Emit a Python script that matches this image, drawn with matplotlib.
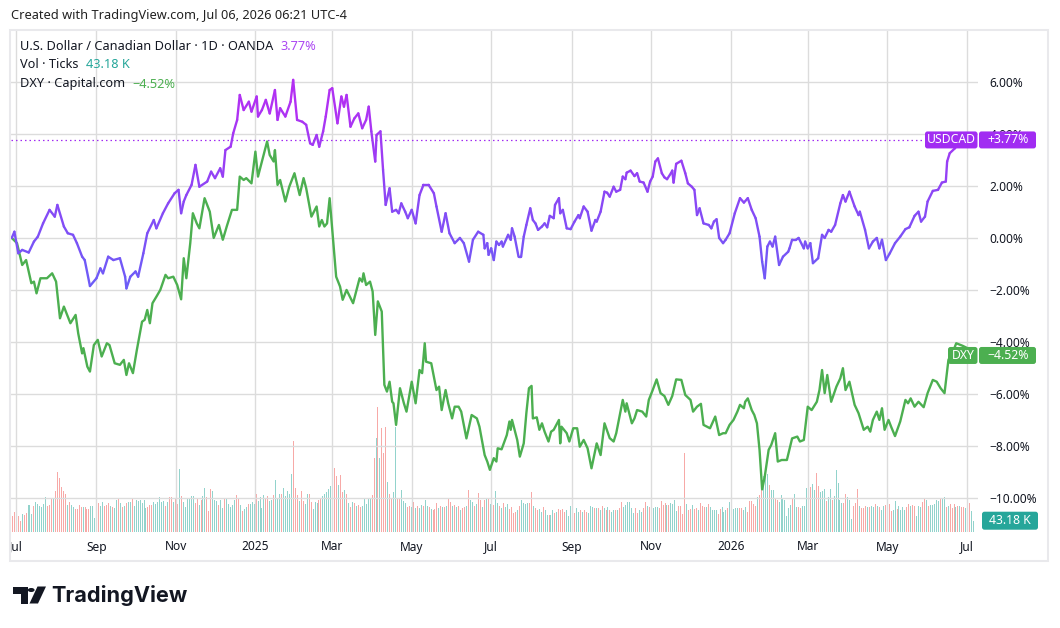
import numpy as np
import pandas as pd
import matplotlib
matplotlib.use("Agg")
import matplotlib.pyplot as plt
import matplotlib.dates as mdates
from matplotlib.collections import LineCollection
from matplotlib.colors import LinearSegmentedColormap, Normalize
from matplotlib.patches import Rectangle, FancyBboxPatch, Circle, Polygon
from matplotlib.transforms import IdentityTransform, Bbox, blended_transform_factory

plt.rcParams['font.family'] = ['Noto Sans', 'DejaVu Sans']

# %% data (percent change since start, x = days after day0)
day0 = pd.Timestamp("2024-07-01")

usdcad = [(-3, 0.0), (-1, 0.24), (2, -0.59), (5, -0.46), (10, -0.56), (14, -0.14), (17, 0.05),
          (21, 0.56), (26, 1.08), (30, 0.82), (32, 1.27), (37, 0.44), (40, 0.18), (44, 0.12),
          (47, -0.20), (51, -0.72), (53, -0.85), (57, -1.85), (62, -1.55), (65, -1.17), (67, -1.36),
          (71, -0.72), (75, -0.85), (80, -0.78), (84, -1.49), (85, -1.94), (88, -1.49), (92, -1.29),
          (94, -1.49), (98, -0.59), (101, 0.18), (106, 0.69), (108, 0.37), (113, 0.95), (117, 1.33),
          (122, 1.72), (125, 1.85), (127, 0.95), (129, 1.40), (131, 1.65), (135, 2.04), (138, 2.81),
          (141, 1.97), (147, 2.17), (150, 2.55), (153, 2.30), (157, 2.68), (159, 2.36), (161, 3.38),
          (165, 3.51), (167, 4.03), (170, 4.54), (172, 5.50), (175, 4.92), (179, 5.24), (181, 4.86),
          (185, 5.44), (186, 4.67), (189, 4.92), (192, 5.31), (195, 4.79), (199, 5.69), (201, 4.54),
          (203, 4.99), (207, 4.67), (211, 5.24), (213, 6.08), (216, 4.54), (220, 4.47), (223, 4.35),
          (226, 3.64), (228, 3.58), (231, 3.96), (233, 3.51), (236, 4.10), (238, 4.67), (241, 5.69),
          (243, 5.76), (247, 4.41), (250, 5.44), (252, 5.05), (254, 5.50), (257, 4.28), (260, 4.60),
          (263, 4.79), (266, 4.22), (269, 4.54), (271, 5.05), (273, 4.10), (276, 2.94), (277, 3.96),
          (280, 4.10), (282, 2.62), (284, 1.27), (287, 1.91), (289, 1.01), (292, 1.08), (294, 0.95),
          (296, 1.33), (299, 1.01), (301, 0.76), (304, 1.08), (307, 0.56), (310, 1.65), (313, 2.04),
          (317, 2.04), (321, 1.72), (323, 1.21), (327, 0.24), (330, 0.95), (333, 0.18), (337, -0.20),
          (341, 0.00), (344, -0.20), (348, -0.91), (351, -0.07), (355, 0.24), (359, 0.12), (360, -0.40),
          (362, -0.20), (363, -0.65), (365, -0.40), (367, -0.85), (369, -0.14), (371, -0.27),
          (373, -0.14), (374, -0.33), (378, 0.12), (380, -0.07), (381, 0.37), (383, 0.05), (386, -0.72),
          (388, -0.72), (390, 0.05), (392, 0.50), (395, 1.14), (397, 0.69), (399, 0.56), (401, 0.31),
          (404, 0.44), (406, 0.56), (408, 0.41), (410, 0.85), (413, 0.76), (414, 1.27), (417, 1.53),
          (418, 0.95), (420, 1.08), (423, 0.37), (426, 0.34), (429, 0.63), (432, 0.88), (433, 0.76),
          (436, 1.21), (439, 1.01), (442, 0.28), (445, 0.69), (446, 0.63), (449, 1.01), (452, 1.78),
          (454, 1.74), (456, 1.59), (459, 1.97), (461, 1.78), (464, 1.85), (466, 2.36), (468, 2.26),
          (469, 2.51), (472, 2.59), (475, 2.38), (477, 2.49), (479, 2.17), (482, 2.13), (485, 1.78),
          (487, 2.17), (489, 2.36), (491, 2.94), (493, 3.06), (496, 2.49), (498, 2.33), (500, 2.26),
          (503, 2.49), (504, 2.59), (505, 2.13), (507, 2.85), (511, 2.97), (514, 2.49), (516, 2.10),
          (519, 1.97), (521, 1.85), (523, 0.88), (525, 1.14), (528, 0.56), (532, 0.50), (534, 0.37),
          (536, 0.63), (538, 0.72), (540, 0.00), (543, -0.20), (545, -0.07), (548, 0.18), (552, 0.95),
          (556, 1.53), (559, 1.36), (562, 1.53), (565, 1.08), (568, 0.76), (571, 0.05), (573, -0.91),
          (575, -1.55), (577, -0.33), (579, -0.14), (581, -0.33), (583, 0.05), (586, -1.04),
          (589, -0.72), (593, -0.53), (594, -0.40), (596, -0.07), (599, -0.07), (601, 0.00),
          (605, -0.40), (606, -0.14), (608, -0.40), (610, -0.20), (612, -0.97), (616, -0.78),
          (619, 0.12), (621, 0.00), (624, 0.31), (626, 0.24), (629, 0.50), (633, 1.33), (635, 1.65),
          (637, 1.40), (640, 1.78), (644, 1.21), (647, 0.88), (648, 1.01), (652, 0.31), (655, -0.40),
          (658, -0.14), (661, 0.00), (663, -0.40), (665, -0.07), (668, -0.85), (671, -0.59),
          (675, -0.20), (679, 0.05), (683, 0.34), (686, 0.41), (690, 0.85), (693, 1.01), (695, 0.63),
          (698, 0.82), (700, 1.40), (704, 1.81), (708, 1.85), (711, 2.13), (714, 2.17), (715, 2.94),
          (717, 3.26), (721, 3.45), (725, 3.70), (730, 3.62), (735, 3.77)]

dxy = [(-3, 0.0), (1, -0.20), (5, -1.04), (8, -0.85), (12, -1.74), (14, -1.68), (16, -2.13),
       (19, -1.55), (24, -1.55), (28, -1.36), (31, -1.68), (34, -3.09), (37, -2.64), (40, -3.03),
       (42, -3.28), (46, -2.96), (48, -3.67), (51, -4.44), (52, -4.24), (55, -4.95), (57, -5.14),
       (60, -4.12), (63, -3.92), (66, -4.56), (70, -4.05), (72, -4.12), (76, -4.82), (80, -4.88),
       (83, -4.69), (85, -5.27), (87, -4.82), (90, -5.20), (93, -4.31), (97, -3.22), (99, -3.15),
       (101, -2.77), (103, -3.28), (105, -2.51), (108, -2.26), (111, -2.00), (115, -1.42),
       (117, -1.55), (121, -1.49), (124, -1.81), (127, -2.36), (129, -0.78), (131, -1.55),
       (134, -0.20), (136, 0.95), (139, 0.56), (141, 0.37), (145, 1.53), (149, 1.01), (152, 0.00),
       (156, 0.50), (159, -0.07), (162, 0.44), (166, 1.08), (170, 1.08), (172, 2.36), (175, 2.23),
       (177, 2.30), (181, 2.10), (184, 3.32), (186, 2.36), (190, 3.13), (193, 3.71), (195, 3.19),
       (198, 2.94), (199, 3.38), (201, 2.04), (203, 2.23), (207, 1.40), (210, 1.97), (214, 2.49),
       (218, 1.65), (221, 2.30), (223, 1.91), (227, 0.82), (231, 1.21), (233, 0.44), (235, 0.69),
       (237, 0.44), (239, 0.56), (241, 1.53), (243, 0.31), (246, -1.49), (249, -1.87), (251, -2.38),
       (254, -2.00), (259, -2.51), (264, -1.55), (266, -1.68), (267, -1.36), (269, -1.81),
       (272, -1.68), (274, -2.06), (276, -3.73), (278, -2.44), (281, -2.83), (283, -5.65),
       (285, -5.91), (287, -5.53), (289, -6.30), (290, -6.36), (292, -7.19), (295, -5.78),
       (298, -6.36), (300, -6.68), (304, -5.53), (307, -6.36), (310, -5.08), (312, -5.20),
       (314, -4.05), (315, -4.76), (319, -4.82), (323, -5.85), (325, -5.72), (327, -6.62),
       (330, -5.85), (332, -6.36), (335, -6.94), (337, -6.49), (340, -6.49), (342, -6.68),
       (346, -7.71), (350, -6.81), (354, -6.94), (356, -7.26), (360, -8.35), (362, -8.60),
       (364, -8.92), (367, -8.47), (369, -8.60), (370, -8.09), (373, -8.13), (377, -7.58),
       (379, -7.06), (380, -7.38), (381, -7.00), (385, -7.77), (387, -8.41), (390, -7.90),
       (392, -6.74), (394, -5.78), (396, -5.69), (397, -6.94), (400, -6.90), (402, -7.38),
       (404, -7.13), (406, -7.45), (409, -7.83), (411, -7.45), (413, -7.38), (417, -7.00),
       (418, -7.90), (419, -7.26), (423, -7.51), (425, -7.83), (428, -7.32), (431, -7.32),
       (433, -8.03), (436, -7.77), (439, -8.09), (442, -8.86), (446, -7.90), (449, -8.35),
       (452, -7.13), (456, -7.70), (459, -7.83), (461, -7.51), (466, -6.23), (468, -6.68),
       (469, -6.36), (473, -7.13), (475, -6.94), (477, -6.62), (481, -6.68), (484, -6.87),
       (486, -6.23), (489, -5.85), (492, -5.44), (495, -5.97), (498, -6.08), (501, -6.42),
       (504, -6.08), (507, -5.44), (511, -5.46), (514, -6.04), (518, -6.23), (520, -6.68),
       (523, -6.49), (526, -6.38), (528, -7.19), (533, -7.32), (537, -6.87), (540, -7.58),
       (543, -7.51), (545, -7.51), (548, -7.19), (551, -7.00), (554, -6.68), (556, -6.42),
       (559, -6.55), (560, -6.30), (562, -6.17), (565, -6.62), (567, -6.81), (569, -7.13),
       (571, -8.15), (573, -9.67), (575, -9.18), (578, -8.15), (580, -7.96), (583, -7.51),
       (585, -8.60), (588, -8.54), (592, -8.54), (596, -7.71), (600, -7.64), (602, -7.83),
       (605, -7.77), (608, -6.49), (611, -6.62), (615, -6.30), (617, -5.85), (619, -5.08),
       (621, -5.97), (623, -5.27), (626, -6.30), (630, -5.72), (633, -5.40), (635, -5.01),
       (637, -5.85), (640, -5.53), (644, -6.42), (647, -6.74), (651, -7.38), (654, -7.26),
       (656, -7.45), (658, -7.00), (661, -6.68), (663, -7.00), (665, -6.55), (667, -7.38),
       (670, -7.00), (672, -7.26), (675, -7.62), (679, -7.06), (683, -6.23), (685, -6.36),
       (687, -6.17), (690, -6.49), (693, -6.30), (697, -6.51), (700, -5.97), (704, -5.46),
       (707, -5.53), (710, -5.78), (713, -5.97), (716, -4.69), (720, -4.31), (722, -4.05),
       (727, -4.15), (731, -4.25), (735, -4.52)]

# volume in K, suffix r = down bar, g = up bar
vol_bars = """
63r 79r 72g 63r 42r 72g 68r 75r 111g 111g 72g 107r 125g 115g 107g 101g 115g 144g 107r 111r
135r 141g 173r 255r 229r 187r 173r 158r 111g 125r 111g 101g 94r 94r 111r 104r 101g 101r 94r 92r
107g 107g 56g 115r 121r 107g 125g 107r 111r 118r 107g 101r 96g 132g 135r 121g 104r 107g 118r 125g
125g 140r 107g 132g 130g 132g 121g 132g 96g 104r 111r 111r 125g 115g 125g 147g 125g 128g 107r 125g
147r 147r 125g 140r 115r 266g 150r 125g 104g 137g 141g 150g 150g 118r 137r 111g 132r 150g 184g 147r
86r 179r 173g 132g 128g 111r 132g 99g 137r 137g 115g 104g 111g 132g 154r 141r 111g 86r 92g 101g
115r 115g 125g 115g 158r 130g 147g 99g 154g 143r 150r 130g 132g 154r 219g 137g 157g 157r 184g 150g
171g 158g 245g 389r 186r 154r 128g 171r 128r 114g 158g 158r 125r 94g 125g 118g 132r 135r 150g 158g
168g 179g 193g 266r 269r 236r 197g 240r 168r 176g 158r 118g 104r 125g 118r 107g 111r 104r 107g 137g
115g 141g 141g 154r 315r 400g 536r 314g 444r 337r 449r 212g 158r 135r 168g 449g 141r 135r 176g 130g
118g 104r 107r 101g 125r 96g 107r 96g 111g 107r 132g 107g 104r 92g 89r 92r 118r 96g 107r 104g
104r 107g 137r 125r 107g 111r 104g 107r 89g 96r 101r 107g 176r 132g 125g 107r 115g 164r 132r 104g
132r 137g 140r 115g 111r 111r 171g 121g 107r 96g 118r 104g 115g 92r 101r 78r 82r 89g 107r 132g
121g 115g 121g 118r 168r 107g 96r 89r 92g 82g 104r 89g 68g 68r 68g 89g 78r 82g 92r 89r
92r 82r 89g 63g 107g 96g 78r 96g 82g 89r 82g 89r 82r 78g 107g 101g 96r 96g 96r 89g
107r 96g 89r 101g 89r 82g 89g 89r 89g 96r 125r 101g 111g 125g 125g 96g 75g 96r 75r 89g
82g 96r 125r 107g 101r 86g 96g 101g 101g 96r 128r 111r 118r 111g 111r 118g 114g 132g 85g 107r
107r 72r 337r 115g 89r 92r 111g 92r 96r 89g 118r 107r 104r 101g 115r 104g 89g 89g 89g 72r
92r 101g 82g 89g 96r 125g 96g 92g 96g 96g 96r 96r 89g 101g 82r 130r 130r 115r 107r 147g
154r 193r 236g 269g 245g 197r 176g 176g 135r 132r 125g 154g 140g 132g 63g 96g 111g 140r 157g 101g
101r 96r 107g 107g 183g 255r 187r 202g 176g 251r 193r 168g 173g 179g 130r 147g 179g 132r 150g 262g
204g 132g 121g 118r 158r 147g 132g 49g 107r 118r 179r 107g 96r 96r 107r 101g 104r 107g 104g 115r
107g 101r 89g 107g 111r 144r 115r 86r 89g 130g 92r 107g 89g 101g 89g 104r 115r 107g 111r 107r
63g 107g 101g 125r 135r 132g 107r 111g 111g 115g 132g 130g 135r 140g 144g 101r 107g 115r 96r 115r
101g 107r 107g 101r 101r 96g 82g 118r 86g 43.18g
"""
vol_first, vol_last = "2024-06-28", "2026-07-06"

usdcad_last = 3.77
dxy_last = -4.52
vol_last_k = 43.18

tick_dates = ["2024-07-01", "2024-09-01", "2024-11-01", "2025-01-01", "2025-03-01", "2025-05-01",
              "2025-07-01", "2025-09-01", "2025-11-01", "2026-01-01", "2026-03-01", "2026-05-01",
              "2026-07-01"]
tick_labels = ["Jul", "Sep", "Nov", "2025", "Mar", "May", "Jul", "Sep", "Nov", "2026", "Mar", "May", "Jul"]
y_ticks = [6, 4, 2, 0, -2, -4, -6, -8, -10]

# %% figure setup
W, H = 1060, 628
fig = plt.figure(figsize=(W / 100, H / 100), dpi=100, facecolor="white")

def fx(px):
    return px / W

def fy(py):
    return 1 - py / H

PLOT_L, PLOT_R, PLOT_T, PLOT_B = 11, 978, 31, 532
ax = fig.add_axes([fx(PLOT_L), fy(PLOT_B), fx(PLOT_R) - fx(PLOT_L), fy(PLOT_T) - fy(PLOT_B)])
ax_vol = ax.twinx()
ax_vol.set_zorder(ax.get_zorder() - 1)
ax.patch.set_visible(False)
ax_vol.patch.set_visible(False)

def to_num(days):
    return mdates.date2num(day0 + pd.to_timedelta(np.asarray(days, dtype=float), unit="D"))

ax.set_xlim(to_num([-3.6])[0], to_num([738.7])[0])
ax.set_ylim(-11.31, 7.96)
ax_vol.set_ylim(-5.6, 2158)

grid_c = "#dcdcdc"
ax.set_yticks(y_ticks)
ax.set_yticklabels([f"{v:.2f}%".replace("-", "\u2212") for v in y_ticks])
ax.yaxis.tick_right()
ax.tick_params(axis="y", length=0, pad=8.5, labelsize=8.6, labelcolor="#131722")
ax.set_xticks(mdates.date2num(pd.to_datetime(tick_dates)))
ax.tick_params(axis="x", length=0, labelbottom=False)
ax.grid(True, color=grid_c, lw=1.0)
ax_vol.set_yticks([])
for a in (ax, ax_vol):
    for s in a.spines.values():
        s.set_visible(False)

# %% volume (1 px wide bars)
toks = vol_bars.split()
vol_k = [float(t[:-1]) for t in toks]
vol_dir = [t[-1] for t in toks]
vol_x = mdates.date2num(pd.date_range(vol_first, vol_last, periods=len(vol_k)))
vol_c = ["#92d3cc" if d == "g" else "#f7a9a7" for d in vol_dir]
ax_vol.vlines(vol_x, 0, vol_k, colors=vol_c, lw=0.62, antialiased=False)

# %% lines
d_days, d_vals = zip(*dxy)
ax.plot(to_num(d_days), d_vals, color="#4caf50", lw=1.7, solid_joinstyle="round", zorder=3)

u_days, u_vals = zip(*usdcad)
ux = to_num(u_days)
uy = np.array(u_vals)
pts = np.column_stack([ux, uy]).reshape(-1, 1, 2)
segs = np.concatenate([pts[:-1], pts[1:]], axis=1)
cmap = LinearSegmentedColormap.from_list("usd", ["#6a5ef7", "#8f44f5", "#b92cf2"])
lc = LineCollection(segs, cmap=cmap, norm=Normalize(-2, 6), linewidths=1.7,
                    joinstyle="round", capstyle="round", zorder=4)
lc.set_array((uy[:-1] + uy[1:]) / 2)
ax.add_collection(lc)

ax.axhline(usdcad_last, color="#a12cf2", lw=0.9, ls=(0, (1.2, 2.4)), zorder=2)

# %% frame and axis labels
fig.add_artist(Rectangle((fx(10), fy(561)), fx(1048) - fx(10), fy(30) - fy(561),
                         transform=fig.transFigure, fill=False, ec="#e9e9ec", lw=1.5, zorder=0))

frame_box = Bbox.from_extents(PLOT_L, 0, 1048, H)
xtrans = blended_transform_factory(ax.transData, ax.transAxes)
lab_y = (PLOT_B - 547) / (PLOT_B - PLOT_T)
for d, lab in zip(tick_dates, tick_labels):
    t = ax.text(mdates.date2num(pd.Timestamp(d)), lab_y, lab, transform=xtrans, ha="center",
                va="center", fontsize=8.6, color="#131722",
                fontweight="bold" if lab.isdigit() else "normal", clip_on=True)
    t.set_clip_box(frame_box)

# %% header texts
fig.text(fx(11), fy(16), "Created with TradingView.com, Jul 06, 2026 06:21 UTC-4",
         fontsize=9.2, color="#222222", va="center", ha="left")

legend_rows = [("U.S. Dollar / Canadian Dollar \u00b7 1D \u00b7 OANDA", f"{usdcad_last:.2f}%", "#ab45f2"),
               ("Vol \u00b7 Ticks", f"{vol_last_k:.2f} K", "#26a69a"),
               ("DXY \u00b7 Capital.com", f"{dxy_last:.2f}%".replace("-", "\u2212"), "#4caf50")]
for i, (name, val, col) in enumerate(legend_rows):
    t = fig.text(fx(20), fy(46 + 19 * i), name, fontsize=9.2, color="#131722", va="center")
    ax.annotate(val, xy=(1, 0.5), xycoords=t, xytext=(5.5, 0), textcoords="offset points",
                va="center", ha="left", fontsize=9.2, color=col)

# %% price tags (drawn in pixel space)
fig.canvas.draw()
ident = IdentityTransform()

def price_y(a, v):
    return a.transData.transform((ax.get_xlim()[0], v))[1]

def add_box(x0, x1, yc, color, h=17):
    fig.add_artist(FancyBboxPatch((x0, yc - h / 2), x1 - x0, h,
                                  boxstyle="round,pad=0,rounding_size=2.5",
                                  transform=ident, fc=color, ec="none", zorder=5))

def add_label(xc, yc, s):
    fig.text(xc, yc, s, transform=ident, ha="center", va="center", color="white",
             fontsize=8.8, fontweight="bold", zorder=6)

yc = price_y(ax, usdcad_last)
add_box(925, 977.5, yc, "#a12cf2")
add_box(979, 1036, yc, "#a12cf2")
add_label(951, yc, "USDCAD")
add_label(1008, yc, f"+{usdcad_last:.2f}%")

yc = price_y(ax, dxy_last)
add_box(948, 977.5, yc, "#4caf50")
add_box(979, 1036, yc, "#4caf50")
add_label(963, yc, "DXY")
add_label(1008, yc, f"{dxy_last:.2f}%".replace("-", "\u2212"))

yc = price_y(ax_vol, vol_last_k)
add_box(982, 1038, yc, "#26a69a", h=18)
add_label(1010, yc, f"{vol_last_k:.2f} K")

# %% TradingView logo
def P(x, y):
    return (fx(x), fy(y))

tf = fig.transFigure
fig.add_artist(Polygon([P(12.5, 586.5), P(27.5, 586.5), P(27.5, 603.5), P(20.5, 603.5),
                        P(20.5, 593.5), P(12.5, 593.5)], closed=True, transform=tf,
                       fc="#131722", ec="none"))
fig.add_artist(Circle(P(31.2, 590.0), 3.4 / W, transform=tf, fc="#131722", ec="none"))
fig.add_artist(Polygon([P(37.5, 586.5), P(46.0, 586.5), P(38.0, 603.5), P(29.5, 603.5)],
                       closed=True, transform=tf, fc="#131722", ec="none"))
fig.text(fx(51), fy(596), "TradingView", fontsize=15.6, fontweight="bold", color="#131722",
         va="center", ha="left", family=["Inter", "DejaVu Sans"])

fig.savefig("out.png", dpi=100, facecolor="white")
